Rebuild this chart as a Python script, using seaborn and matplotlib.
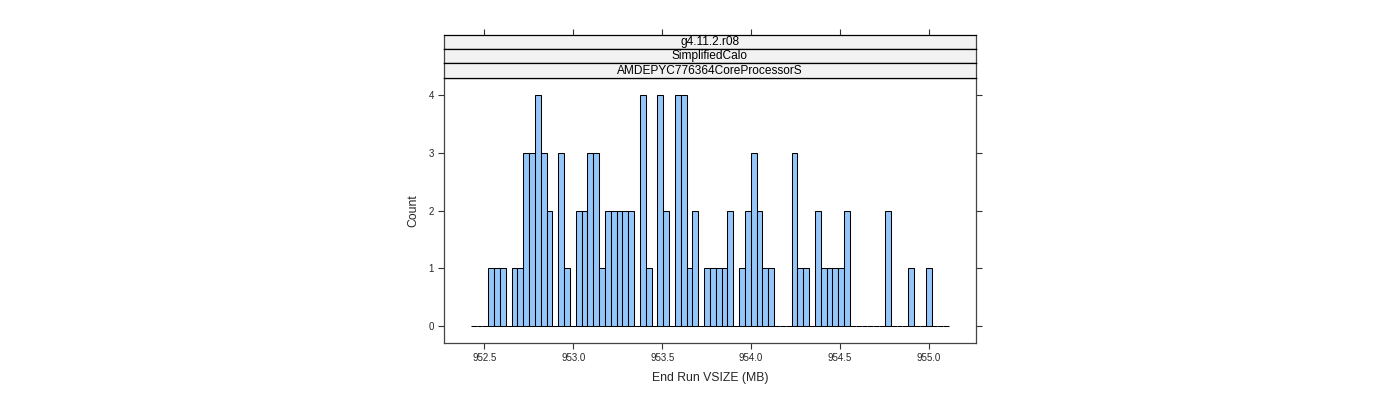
import numpy as np
import pandas as pd
import matplotlib
matplotlib.use("Agg")
import matplotlib.pyplot as plt
import seaborn as sns

# ---- data ----
bin_start = 952.4236          # left edge of the first break (MB)
bin_width = 0.0328            # width of every break (MB)
counts = [0, 0, 0,
          1, 1, 1, 0, 1, 1, 3, 3, 4, 3, 2, 0, 3, 1, 0, 2, 2, 3, 3, 1,
          2, 2, 2, 2, 2, 0, 4, 1, 0, 4, 2, 0, 4, 4, 1, 2, 0, 1, 1, 1,
          1, 2, 0, 1, 2, 3, 2, 1, 1, 0, 0, 0, 3, 1, 1, 0, 2, 1, 1, 1,
          1, 2, 0, 0, 0, 0, 0, 0, 2, 0, 0, 0, 1, 0, 0, 1, 0, 0, 0]
x_ticks = [952.5, 953.0, 953.5, 954.0, 954.5, 955.0]
y_ticks = [0, 1, 2, 3, 4]
strip_labels = ["g4.11.2.r08", "SimplifiedCalo", "AMDEPYC776364CoreProcessorS"]
x_label = "End Run VSIZE (MB)"
y_label = "Count"

edges = [float(bin_start + bin_width * i) for i in range(len(counts) + 1)]
centers = [(a + b) / 2 for a, b in zip(edges[:-1], edges[1:])]
df = pd.DataFrame({"vsize": centers, "count": counts})

sns.set_theme(style="white")
plt.rcParams["font.family"] = ["Liberation Sans", "DejaVu Sans"]

W, H = 1400, 400
fig = plt.figure(figsize=(W / 100, H / 100), dpi=100)

def fx(px):
    return px / W

def fy(py):
    return 1 - py / H

left, right = 444.3, 975.7
p_top, p_bot = 77.7, 343.3
s_top = 35.0
xlim = (952.2753, 955.2624)
ylim = (-0.293, 4.293)

ax = fig.add_axes([fx(left), fy(p_bot), fx(right - left), (p_bot - p_top) / H])
sns.histplot(data=df, x="vsize", weights="count", bins=edges, ax=ax,
             color="#94C6FA", edgecolor="black", linewidth=0.75, alpha=1.0)
ax.set_xlim(*xlim)
ax.set_ylim(*ylim)
ax.set_xticks(x_ticks)
ax.set_xticklabels([f"{v:.1f}" for v in x_ticks])
ax.set_yticks(y_ticks)
ax.set_yticklabels([str(v) for v in y_ticks])
ax.tick_params(axis="both", which="both", direction="out", length=4.3,
               width=0.8, color="#333333", labelsize=7, pad=3,
               bottom=True, left=True, right=True, top=False,
               labelright=False)
ax.set_xlabel(x_label, fontsize=8.8, labelpad=6.5)
ax.set_ylabel(y_label, fontsize=8.8, labelpad=7)
for s in ax.spines.values():
    s.set_color("#444444")
    s.set_linewidth(0.9)

# ---- strips ----
sh = (p_top - s_top) / 3
for i, lab in enumerate(strip_labels):
    top = s_top + i * sh
    sax = fig.add_axes([fx(left), fy(top + sh), fx(right - left), sh / H])
    sax.set_facecolor("#F2F2F2")
    sax.set_xlim(*xlim)
    sax.set_ylim(0, 1)
    sax.set_yticks([])
    if i == 0:
        sax.set_xticks(x_ticks)
        sax.tick_params(axis="x", which="both", direction="out", length=4.3,
                        width=0.8, color="#333333", bottom=False, top=True,
                        labelbottom=False, labeltop=False)
    else:
        sax.set_xticks([])
    sax.text(0.5, 0.5, lab, transform=sax.transAxes, ha="center",
             va="center", fontsize=8.6, color="black")
    for name, s in sax.spines.items():
        s.set_linewidth(0.9)
        s.set_color("#444444" if name in ("left", "right") else "black")

fig.savefig("out.png", dpi=100, facecolor="white")
